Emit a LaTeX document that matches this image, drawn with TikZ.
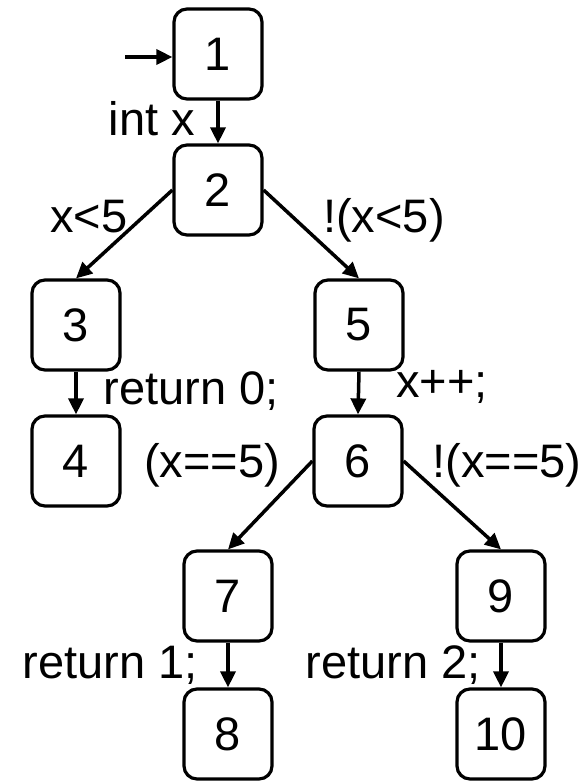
\documentclass[tikz,border=0pt]{standalone}
\usepackage{fontspec}
\setmainfont{Liberation Sans}
\usetikzlibrary{arrows.meta}
\begin{document}
\begin{tikzpicture}[x=1pt,y=-1pt,
  blk/.style={draw,line width=3.2pt,rounded corners=13pt,minimum width=88pt,minimum height=90pt,inner sep=0pt,font=\fontsize{47}{52}\selectfont},
  lbl/.style={anchor=base,inner sep=0pt,font=\fontsize{47}{52}\selectfont},
  edge/.style={line width=3.5pt,-{Triangle[length=16pt,width=15pt]}}]
\useasboundingbox (0,0) rectangle (583,782);
\node[blk] (n1) at (218,54) {1};
\node[blk] (n2) at (218,190) {2};
\node[blk] (n3) at (76,325) {3};
\node[blk] (n4) at (76,461) {4};
\node[blk] (n5) at (359,325) {5};
\node[blk] (n6) at (358,461) {6};
\node[blk] (n7) at (228,596) {7};
\node[blk] (n8) at (228,734) {8};
\node[blk] (n9) at (501,596) {9};
\node[blk] (n10) at (501,734) {10};
\coordinate (s) at (125,57);
\draw[edge] (s) -- (s -| n1.west);
\draw[edge] (n1.south) -- (n2.north);
\draw[edge] (n2.west) -- (n3.north);
\draw[edge] (n2.east) -- (n5.north);
\draw[edge] (n3.south) -- (n4.north);
\draw[edge] (n5.south) -- (n6.north);
\draw[edge] (n6.west) -- (n7.north);
\draw[edge] (n6.east) -- (n9.north);
\draw[edge] (n7.south) -- (n8.north);
\draw[edge] (n9.south) -- (n10.north);
\node[lbl] (l1) at (152,135) {int x};
\node[lbl] (l2) at (89,232) {x<5};
\node[lbl] (l3) at (384,232) {!(x<5)};
\node[lbl] (l4) at (191,404) {return 0;};
\node[lbl] (l5) at (442,397) {x++;};
\node[lbl] (l6) at (212,477) {(x==5)};
\node[lbl] (l7) at (507,477) {!(x==5)};
\node[lbl] (l8) at (110,678) {return 1;};
\node[lbl] (l9) at (393,678) {return 2;};
\end{tikzpicture}
\end{document}
